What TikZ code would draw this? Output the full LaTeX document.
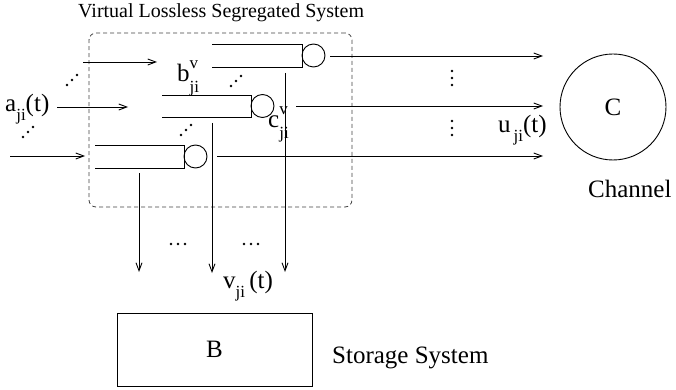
\documentclass[tikz,border=0pt]{standalone}
\usepackage{fontspec}
\setmainfont{Liberation Serif}
\usetikzlibrary{arrows.meta}
\newcommand{\lblsz}{\fontsize{25}{30}\selectfont}
\newcommand{\ttlsz}{\fontsize{20}{24}\selectfont}
\newcommand{\subsz}{\fontsize{17}{20}\selectfont}
\newcommand{\SupSub}[3]{#1\rlap{\raisebox{0.52em}{\subsz #2}}\raisebox{-0.44em}{\subsz #3}}
\newcommand{\SubOnly}[2]{#1\raisebox{-0.36em}{\subsz #2}}
\tikzset{
  ln/.style={line width=0.9pt},
  arr/.style={ln,-{Straight Barb[length=8pt,width=6pt]}},
  srv/.style={circle,draw,ln,minimum size=23pt,inner sep=0pt},
  lab/.style={inner sep=0pt,font=\lblsz},
  group/.style={draw,dashed,dash pattern=on 4pt off 3pt,rounded corners=7pt,line width=0.8pt,black!75,inner sep=0pt},
}
\begin{document}
\begin{tikzpicture}[x=1pt,y=-1pt]
\useasboundingbox (0,0) rectangle (676,390);
% title and group
\node[lab,font=\ttlsz,anchor=base west] (title) at (78,18) {Virtual Lossless Segregated System};
\node[group,minimum width=263pt,minimum height=174pt] (sys) at (220.5,120) {};
% queues
\draw[ln] (212,44) -- (302,44) -- (302,67) -- (212,67);
\node[srv] (s1) at (313.5,55.5) {};
\draw[ln] (162,95) -- (251,95) -- (251,117) -- (162,117);
\node[srv] (s2) at (262.5,106) {};
\draw[ln] (95,145) -- (184,145) -- (184,168) -- (95,168);
\node[srv] (s3) at (195.5,156.5) {};
% labels
\node[lab,anchor=base west] (a) at (5,112) {\SubOnly{a}{ji}(t)};
\node[lab,anchor=base west] (b) at (177,82) {\SupSub{b}{v}{ji}};
\node[lab,anchor=base west] (c) at (268,128) {\SupSub{c}{v}{ji}};
\node[lab,anchor=base west] (u) at (498,133) {u\hspace{3pt}\raisebox{-0.36em}{\subsz ji}(t)};
\node[lab,anchor=base west] (v) at (223,288) {\SubOnly{v}{ji}\,(t)};
% inputs
\coordinate (i1s) at (83,62);  \coordinate (i1e) at (157,62);
\coordinate (i2s) at (57,107); \coordinate (i2e) at (128,107);
\coordinate (i3s) at (10,156); \coordinate (i3e) at (85,156);
\draw[arr] (i1s) -- (i1e);
\draw[arr] (i2s) -- (i2e);
\draw[arr] (i3s) -- (i3e);
% outputs to channel
\coordinate (o1s) at (330,56);  \coordinate (o1e) at (543,56);
\coordinate (o2s) at (296,106); \coordinate (o2e) at (543,106);
\coordinate (o3s) at (217,156); \coordinate (o3e) at (543,156);
\draw[arr] (o1s) -- (o1e);
\draw[arr] (o2s) -- (o2e);
\draw[arr] (o3s) -- (o3e);
% outputs to storage
\coordinate (d1s) at (139,173); \coordinate (d1e) at (139,272);
\coordinate (d2s) at (212,123); \coordinate (d2e) at (212,273);
\coordinate (d3s) at (285,73);  \coordinate (d3e) at (285,272);
\draw[arr] (d1s) -- (d1e);
\draw[arr] (d2s) -- (d2e);
\draw[arr] (d3s) -- (d3e);
% channel and storage
\node[circle,draw,ln,minimum size=106pt,inner sep=0pt,font=\lblsz] (C) at (613,107) {C};
\node[lab,anchor=base west] (chl) at (588,197) {Channel};
\node[draw,ln,minimum width=195pt,minimum height=73pt,inner sep=0pt,font=\lblsz] (B) at (214.5,349.5) {B};
\node[lab,anchor=base west] (stl) at (332,363) {Storage System};
% dots
\foreach \cx/\cy in {72/80, 28/132, 236/81, 186/130}
  \foreach \k in {-1,0,1}
    \fill (\cx+5*\k, \cy-5*\k) circle (1.3);
\foreach \cy in {71,78,85,121,128,135}
  \fill (452,\cy) circle (1.3);
\foreach \cx in {171,178,185,244,251,258}
  \fill (\cx,244) circle (1.3);
\end{tikzpicture}
\end{document}
